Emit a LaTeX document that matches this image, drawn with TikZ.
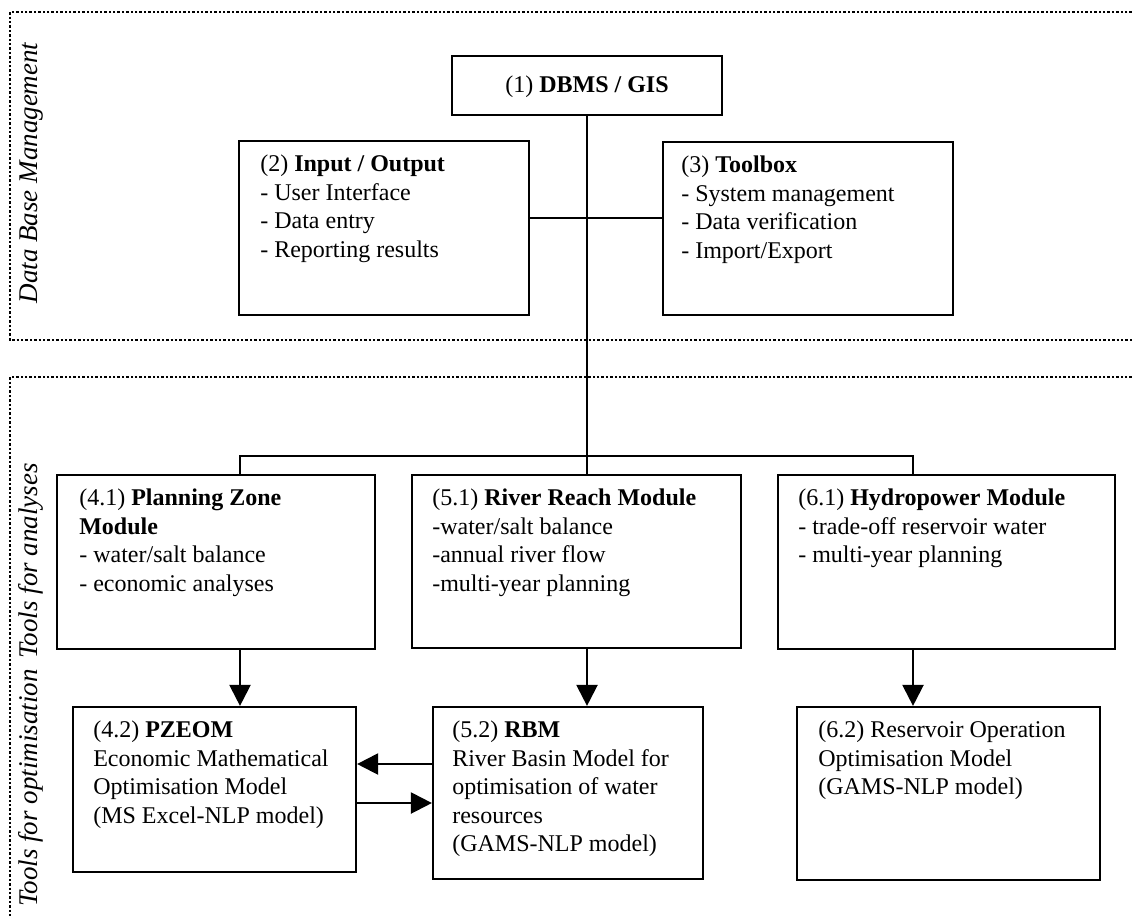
\documentclass[tikz,border=0pt]{standalone}
\usepackage{fontspec}
\setmainfont{Liberation Serif}
\usetikzlibrary{arrows.meta,fit}

\tikzset{
    modbox/.style={draw, line width=1.1pt, inner sep=0pt},
    modtext/.style={anchor=north west, inner sep=0pt, align=left, font=\fontsize{12}{14.2}\selectfont},
    sidelabel/.style={rotate=90, anchor=base, inner sep=0pt, font=\fontsize{13.5}{16}\selectfont\itshape},
    areaframe/.style={line width=1.3pt, dash pattern=on 1.2pt off 1pt},
    link/.style={line width=1.1pt},
    flow/.style={line width=1.1pt, -{Triangle[length=10.5pt,width=10.5pt]}},
}

\begin{document}
\begin{tikzpicture}[x=0.5pt,y=-0.5pt]
  \useasboundingbox (0,0) rectangle (1133,916);

  % Dotted frames
  \draw[areaframe] (1145,12) -- (10,12) -- (10,340) -- (1145,340);
  \draw[areaframe] (1145,377) -- (10,377) -- (10,930);

  \node[sidelabel] (dbmlabel) at (37,173) {Data Base Management};
  \node[sidelabel] (analabel) at (37,561) {Tools for analyses};
  \node[sidelabel] (optlabel) at (37,788) {Tools for optimisation};

  % Data base management
  \node[modbox, fit={(452,56) (722,115)}] (dbms) {};
  \node[modtext, anchor=base] (dbmstext) at (587,92) {(1) \textbf{DBMS / GIS}};

  \node[modbox, fit={(239,141) (529,315)}] (io) {};
  \node[modtext] (iotext) at ([shift={(22,15)}]io.north west)
    {(2) \textbf{Input / Output}\\- User Interface\\- Data entry\\- Reporting results};

  \node[modbox, fit={(663,142) (953,315)}] (tb) {};
  \node[modtext] (tbtext) at ([shift={(19,15)}]tb.north west)
    {(3) \textbf{Toolbox}\\- System management\\- Data verification\\- Import/Export};

  % Tools for analyses
  \node[modbox, fit={(57,475) (375,649)}] (pz) {};
  \node[modtext] (pztext) at ([shift={(23,15)}]pz.north west)
    {(4.1) \textbf{Planning Zone}\\\textbf{Module}\\- water/salt balance\\- economic analyses};

  \node[modbox, fit={(412,475) (741,648)}] (rr) {};
  \node[modtext] (rrtext) at ([shift={(21,15)}]rr.north west)
    {(5.1) \textbf{River Reach Module}\\-water/salt balance\\-annual river flow\\-multi-year planning};

  \node[modbox, fit={(778,475) (1115,649)}] (hp) {};
  \node[modtext] (hptext) at ([shift={(21,15)}]hp.north west)
    {(6.1) \textbf{Hydropower Module}\\- trade-off reservoir water\\- multi-year planning};

  % Tools for optimisation
  \node[modbox, fit={(73,707) (356,872)}] (pzeom) {};
  \node[modtext] (pzeomtext) at ([shift={(21,15)}]pzeom.north west)
    {(4.2) \textbf{PZEOM}\\Economic Mathematical\\Optimisation Model\\(MS Excel-NLP model)};

  \node[modbox, fit={(433,707) (703,879)}] (rbm) {};
  \node[modtext] (rbmtext) at ([shift={(20,15)}]rbm.north west)
    {(5.2) \textbf{RBM}\\River Basin Model for\\optimisation of water\\resources\\(GAMS-NLP model)};

  \node[modbox, fit={(797,707) (1100,880)}] (roo) {};
  \node[modtext] (rootext) at ([shift={(22,15)}]roo.north west)
    {(6.2) Reservoir Operation\\Optimisation Model\\(GAMS-NLP model)};

  % Connectors
  \coordinate (iolink) at (529,218);
  \coordinate (busL) at (240,456);
  \coordinate (busR) at (913,456);
  \coordinate (backlink) at (0,764);
  \coordinate (fwdlink) at (0,803);

  \draw[link] (iolink) -- (iolink -| tb.west);
  \draw[link] (dbms.south) -- (dbms.south |- rr.north);
  \draw[link] (busL |- pz.north) -- (busL) -- (busR) -- (busR |- hp.north);

  \draw[flow] (busL |- pz.south) -- (busL |- pzeom.north);
  \draw[flow] (dbms.south |- rr.south) -- (dbms.south |- rbm.north);
  \draw[flow] (busR |- hp.south) -- (busR |- roo.north);

  \draw[flow] (rbm.west |- backlink) -- (pzeom.east |- backlink);
  \draw[flow] (pzeom.east |- fwdlink) -- (rbm.west |- fwdlink);

\end{tikzpicture}
\end{document}
